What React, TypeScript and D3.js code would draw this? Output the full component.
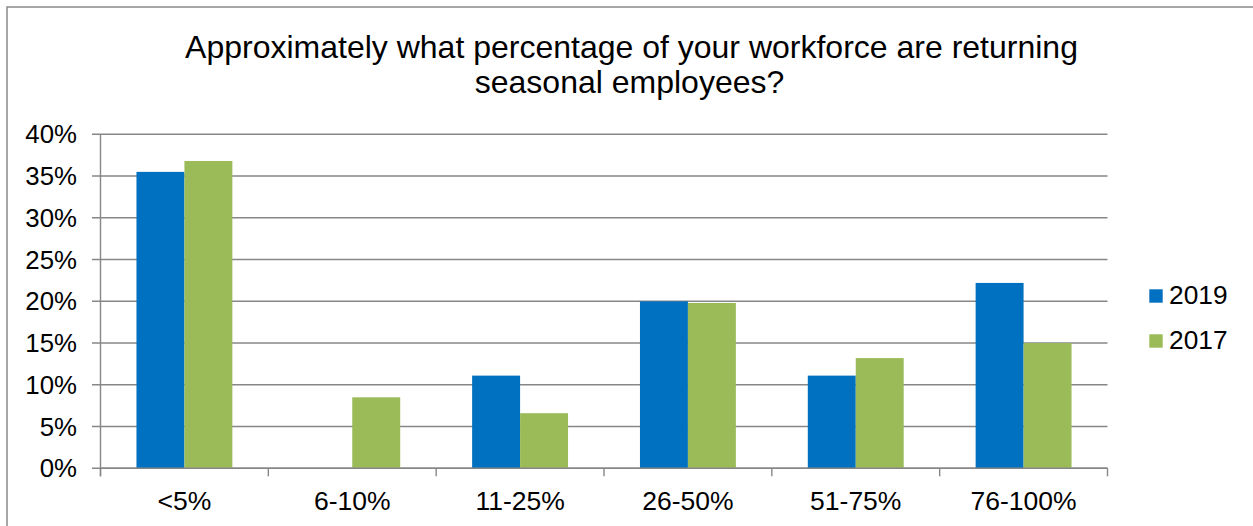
import React from "react";
import * as d3 from "d3";

const title1 = "Approximately what percentage of your workforce are returning";
const title2 = "seasonal employees?";
const categories = ["<5%", "6-10%", "11-25%", "26-50%", "51-75%", "76-100%"];
const seriesNames = ["2019", "2017"];
const values2019 = [35.5, 0, 11.1, 20.0, 11.1, 22.2];
const values2017 = [36.8, 8.5, 6.6, 19.8, 13.2, 15.0];
const yTicks = [0, 5, 10, 15, 20, 25, 30, 35, 40];
const colors = ["#0070C0", "#9BBB59"];

const W = 1253;
const H = 526;
const FONT = "'Liberation Sans', Arial, sans-serif";

export default function App() {
  const left = 100.5;
  const right = 1107.5;
  const top = 134.3;
  const bottom = 468.3;

  const x = d3.scaleBand<string>().domain(categories).range([left, right]).padding(0);
  const y = d3.scaleLinear().domain([0, 40]).range([bottom, top]);
  const step = x.step();
  const bw = step / 3.5;
  const series = [values2019, values2017];

  return (
    <svg width={W} height={H} style={{ position: "absolute", left: 0, top: 0, background: "#fff" }}>
      <rect x={7} y={7} width={W + 10} height={H + 10} fill="#fff" stroke="#898989" strokeWidth={1.5} />
      <text x={631.5} y={57.5} textAnchor="middle" fontFamily={FONT} fontSize={32} fill="#000">{title1}</text>
      <text x={629.5} y={93} textAnchor="middle" fontFamily={FONT} fontSize={32} fill="#000">{title2}</text>

      {yTicks.map((t) => (
        <g key={t}>
          <line x1={92} x2={right} y1={y(t)} y2={y(t)} stroke="#878787" strokeWidth={1.4} />
          <text x={77} y={y(t)} dy="0.35em" textAnchor="end" fontFamily={FONT} fontSize={25.8} fill="#000">
            {t}%
          </text>
        </g>
      ))}
      <line x1={left} x2={left} y1={top} y2={bottom + 8} stroke="#878787" strokeWidth={1.4} />

      {series.map((vals, si) =>
        categories.map((c, i) => {
          const cx = (x(c) as number) + step / 2;
          const x0 = cx - bw + si * bw;
          return vals[i] > 0 ? (
            <rect key={`${si}-${i}`} x={x0} y={y(vals[i])} width={bw} height={bottom - y(vals[i])} fill={colors[si]} />
          ) : null;
        })
      )}

      <line x1={left} x2={right} y1={bottom} y2={bottom} stroke="#878787" strokeWidth={1.6} />
      {d3.range(categories.length + 1).map((i) => {
        const xx = left + i * step;
        return <line key={i} x1={xx} x2={xx} y1={bottom} y2={bottom + 8} stroke="#878787" strokeWidth={1.4} />;
      })}
      {categories.map((c) => (
        <text key={c} x={(x(c) as number) + step / 2} y={510} textAnchor="middle" fontFamily={FONT} fontSize={26.5} fill="#000">
          {c}
        </text>
      ))}

      {seriesNames.map((s, i) => (
        <g key={s}>
          <rect x={1149.3} y={289.3 + i * 45} width={13.4} height={13.4} fill={colors[i]} />
          <text x={1169} y={304 + i * 45} fontFamily={FONT} fontSize={26.3} fill="#000">{s}</text>
        </g>
      ))}
    </svg>
  );
}
